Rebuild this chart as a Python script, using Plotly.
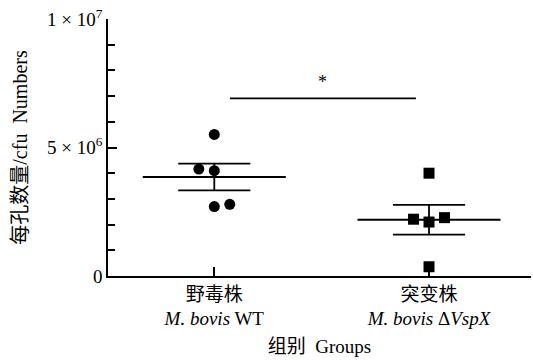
import numpy as np
import plotly.graph_objects as go

groups = ["野毒株<br><i>M. bovis</i> WT", "突变株<br><i>M. bovis</i> Δ<i>VspX</i>"]
wt_values = [5.51e6, 4.16e6, 4.10e6, 2.70e6, 2.79e6]
wt_offsets = [0.0, -0.072, 0.0, 0.0, 0.072]
mut_values = [4.00e6, 2.21e6, 2.10e6, 2.27e6, 0.36e6]
mut_offsets = [0.0, -0.072, 0.0, 0.072, 0.0]
y_tickvals = [0, 5e6, 1e7]
y_ticktext = ["0", "5 × 10<sup>6</sup>", "1 × 10<sup>7</sup>"]
sig_x = [0.073, 0.939]
sig_y = 6.91e6
sig_label = "*"
sig_label_y = 7.55e6

FONT = "Liberation Serif, Noto Sans CJK SC, serif"
fig = go.Figure()

def add_group(xc, vals, offs, symbol):
    vals = np.array(vals)
    mean = vals.mean()
    sem = vals.std(ddof=1) / np.sqrt(len(vals))
    hw_mean, hw_cap = 0.333, 0.168
    fig.add_trace(go.Scatter(x=[xc - hw_mean, xc + hw_mean], y=[mean, mean], mode="lines",
                             line=dict(color="black", width=1.8), showlegend=False, hoverinfo="skip"))
    for yv in (mean - sem, mean + sem):
        fig.add_trace(go.Scatter(x=[xc - hw_cap, xc + hw_cap], y=[yv, yv], mode="lines",
                                 line=dict(color="black", width=1.8), showlegend=False, hoverinfo="skip"))
    fig.add_trace(go.Scatter(x=[xc, xc], y=[mean - sem, mean + sem], mode="lines",
                             line=dict(color="black", width=1.8), showlegend=False, hoverinfo="skip"))
    fig.add_trace(go.Scatter(x=[xc + o for o in offs], y=vals, mode="markers",
                             marker=dict(symbol=symbol, size=11, color="black"),
                             showlegend=False))

add_group(0, wt_values, wt_offsets, "circle")
add_group(1, mut_values, mut_offsets, "square")

fig.add_trace(go.Scatter(x=sig_x, y=[sig_y, sig_y], mode="lines",
                         line=dict(color="black", width=1.8), showlegend=False, hoverinfo="skip"))
fig.add_annotation(x=np.mean(sig_x), y=sig_label_y, text=sig_label, showarrow=False,
                   font=dict(family=FONT, size=18, color="black"))

fig.update_layout(
    width=533, height=360,
    margin=dict(l=108, r=2, t=19, b=84),
    plot_bgcolor="white", paper_bgcolor="white",
    font=dict(family=FONT, size=18, color="#000000"),
    xaxis=dict(range=[-0.495, 1.475], tickvals=[0, 1], ticktext=groups,
               showline=True, linecolor="black", linewidth=1.5,
               ticks="inside", ticklen=9, tickwidth=1.5, tickcolor="black",
               showgrid=False, zeroline=False,
               tickfont=dict(size=19, color="#000000"),
               title=dict(text="组别  Groups", standoff=11, font=dict(size=19, color="#000000"))),
    yaxis=dict(range=[0, 1e7], tickvals=y_tickvals, ticktext=y_ticktext,
               showline=True, linecolor="black", linewidth=1.5,
               ticks="inside", ticklen=9, tickwidth=1.5, tickcolor="black",
               minor=dict(dtick=1e6, ticks="inside", ticklen=7, tickwidth=1.5, tickcolor="black", showgrid=False),
               showgrid=False, zeroline=False,
               tickfont=dict(size=19, color="#000000"),
               title=dict(text="每孔数量/cfu  Numbers", standoff=14, font=dict(size=20, color="#000000"))),
)

fig.write_html("out.html")
